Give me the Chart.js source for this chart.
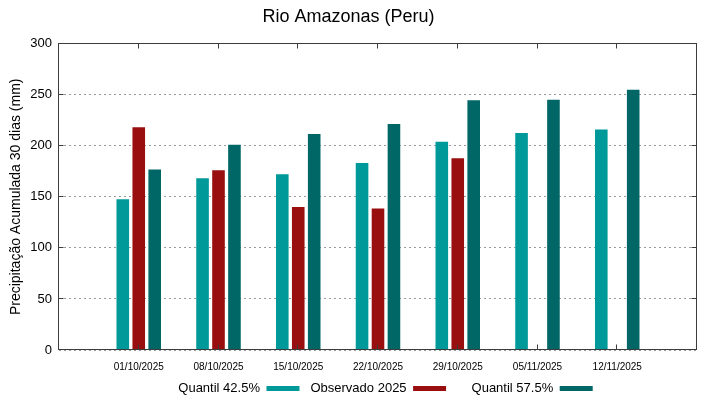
<!DOCTYPE html>
<html lang="pt">
<head>
<meta charset="UTF-8">
<title>Rio Amazonas (Peru)</title>
<script src="https://cdn.jsdelivr.net/npm/chart.js"></script>
<style>
    * { margin: 0; padding: 0; box-sizing: border-box; }
    body { background: #fff; width: 719px; height: 399px; overflow: hidden; }
    #caixa { position: relative; width: 719px; height: 399px; }
    canvas { display: block; }
</style>
</head>
<body>
<div id="caixa"><canvas id="grafico" width="719" height="399"></canvas></div>
<script>
    // dados
    const datas = ["01/10/2025", "08/10/2025", "15/10/2025", "22/10/2025", "29/10/2025", "05/11/2025", "12/11/2025"];
    const quantil425 = [147.7, 168.2, 172, 183, 204, 212.5, 215.8];
    const observado = [218, 176, 140, 138.5, 187.7, null, null];
    const quantil575 = [176.7, 201, 211.5, 221.3, 244.5, 245, 254.9];
    const yTicks = [0, 50, 100, 150, 200, 250, 300];

    // uma categoria vazia em cada ponta (como o xrange do original)
    const pad = arr => [null, ...arr, null];
    const rotulos = ["", ...datas, ""];

    const fonte = "'Liberation Sans', Arial, sans-serif";

    // moldura completa + marcas internas
    const moldura = {
        id: 'moldura',
        afterLayout(chart) {
            // legenda um pouco deslocada para a direita, como no original
            chart.legend.left += 37;
            chart.legend.right += 37;
        },
        afterDatasetsDraw(chart) {
            const { ctx, chartArea: a, scales: { x, y } } = chart;
            const L = Math.round(a.left) - 0.5, R = Math.round(a.right) - 0.5;
            const T = Math.round(a.top) - 0.5, B = Math.round(a.bottom) - 0.5;
            ctx.save();
            ctx.strokeStyle = '#3c3c3c';
            ctx.lineWidth = 1;
            ctx.beginPath();
            for (let i = 1; i <= datas.length; i++) {
                const px = Math.round(x.getPixelForValue(i)) - 0.5;
                ctx.moveTo(px, B); ctx.lineTo(px, B - 5);
                ctx.moveTo(px, T); ctx.lineTo(px, T + 5);
            }
            yTicks.slice(1, -1).forEach(v => {
                const py = Math.round(y.getPixelForValue(v)) - 0.5;
                ctx.moveTo(L, py); ctx.lineTo(L + 5, py);
                ctx.moveTo(R, py); ctx.lineTo(R - 5, py);
            });
            ctx.stroke();
            ctx.strokeRect(L, T, R - L, B - T);
            ctx.restore();
        }
    };

    new Chart(document.getElementById('grafico'), {
        type: 'bar',
        data: {
            labels: rotulos,
            datasets: [
                { label: 'Quantil 42.5%', data: pad(quantil425), backgroundColor: '#009999' },
                { label: 'Observado 2025', data: pad(observado), backgroundColor: '#990f0f' },
                { label: 'Quantil 57.5%', data: pad(quantil575), backgroundColor: '#006666' }
            ]
        },
        options: {
            responsive: false,
            animation: false,
            devicePixelRatio: 1,
            categoryPercentage: 0.6,
            barPercentage: 0.79,
            layout: { padding: { left: 0, right: 22, top: 0, bottom: -6 } },
            plugins: {
                title: {
                    display: true,
                    text: 'Rio Amazonas (Peru)',
                    color: '#000',
                    font: { family: fonte, size: 18, weight: 'normal' },
                    padding: { top: 6, bottom: 16 }
                },
                legend: {
                    position: 'bottom',
                    rtl: true,
                    reverse: true,
                    textDirection: 'ltr',
                    labels: {
                        color: '#000',
                        font: { family: fonte, size: 13 },
                        boxWidth: 33,
                        boxHeight: 5,
                        padding: 11,
                        generateLabels(chart) {
                            const itens = Chart.defaults.plugins.legend.labels.generateLabels(chart);
                            // o ultimo item fica mais afastado no original
                            itens.forEach(it => { if (it.datasetIndex === 2) it.text = '    ' + it.text; });
                            return itens;
                        }
                    }
                },
                tooltip: { enabled: false }
            },
            scales: {
                x: {
                    offset: false,
                    grid: { display: false, drawTicks: false },
                    border: { display: false },
                    ticks: {
                        autoSkip: false,
                        maxRotation: 0,
                        padding: 11,
                        color: '#000',
                        font: { family: fonte, size: 10 }
                    },
                    afterFit: s => { s.height = 21; }
                },
                y: {
                    min: 0,
                    max: 300,
                    afterBuildTicks: s => { s.ticks = yTicks.map(v => ({ value: v })); },
                    grid: { color: '#9a9a9a', lineWidth: 1, drawTicks: false },
                    border: { display: false, dash: [2, 3] },
                    ticks: {
                        padding: 7,
                        color: '#000',
                        font: { family: fonte, size: 13 }
                    },
                    title: {
                        display: true,
                        text: 'Precipitação Acumulada 30 dias (mm)',
                        color: '#000',
                        font: { family: fonte, size: 14 },
                        padding: { top: 8, bottom: 0 }
                    },
                    afterFit: s => { s.width = 59; }
                }
            }
        },
        plugins: [moldura]
    });
</script>
</body>
</html>
